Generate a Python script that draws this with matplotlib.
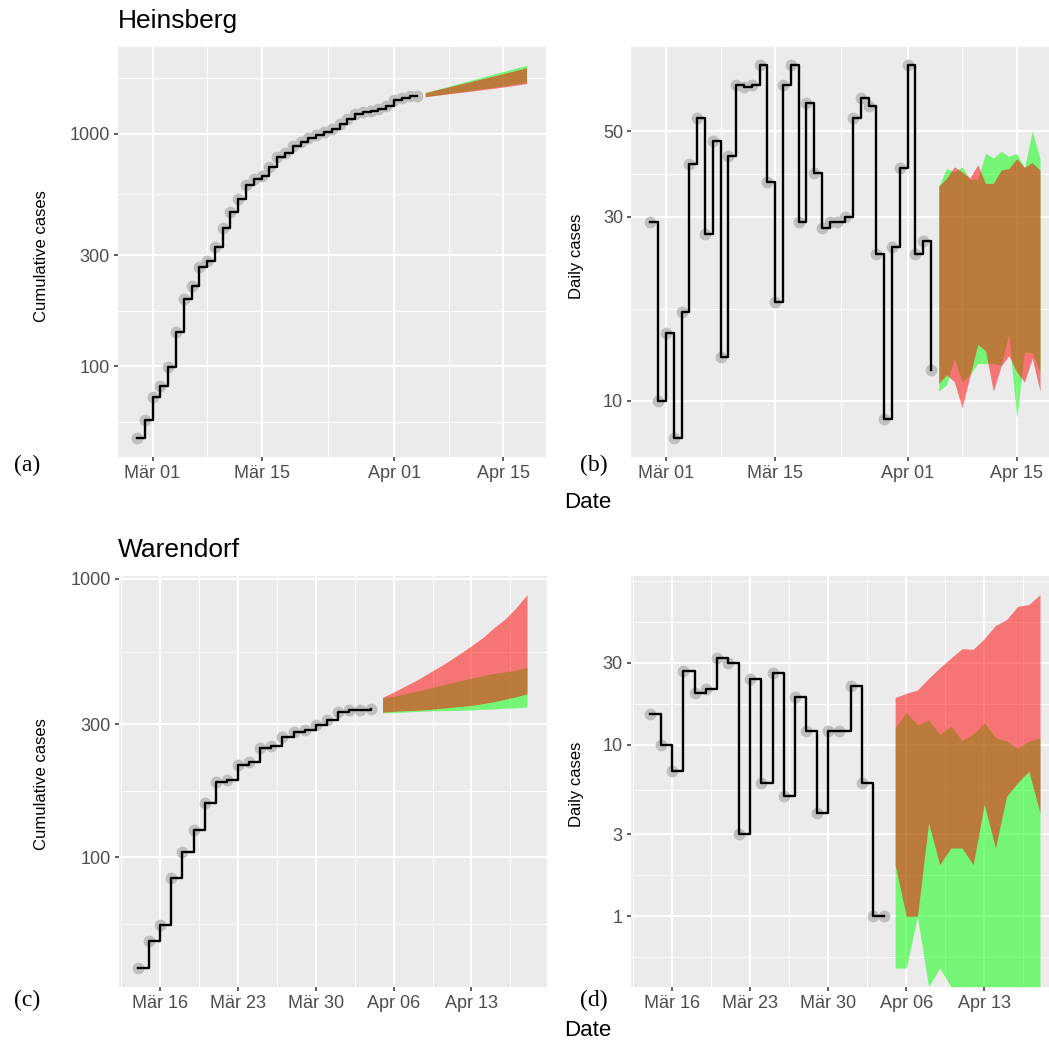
import numpy as np
import matplotlib
matplotlib.use('Agg')
import matplotlib.pyplot as plt
import matplotlib.dates as mdates
from matplotlib.ticker import FixedLocator, FixedFormatter, NullFormatter

plt.rcParams['font.family'] = ['Liberation Sans', 'DejaVu Sans']

W, H = 1049, 1042

# ---- Heinsberg ----
hs_obs_dates = np.arange('2020-02-28', '2020-04-05', dtype='datetime64[D]')
hs_cum = [49, 59, 74, 82, 99, 140, 194, 221, 268, 282, 326, 392, 458, 522, 598, 636,
          655, 718, 795, 826, 880, 922, 952, 983, 1013, 1045, 1097, 1153, 1211, 1237,
          1246, 1270, 1311, 1387, 1415, 1444, 1456]
hs_daily = [29, 10, 15, 8, 17, 41, 54, 27, 47, 13, 43, 66, 65, 66, 74, 37, 18, 66, 74,
            29, 59, 39, 28, 29, 29, 30, 54, 61, 58, 24, 9, 25, 40, 74, 24, 26, 12]

fc_dates = np.arange('2020-04-05', '2020-04-19', dtype='datetime64[D]')
hs_cum_g_lo = [1440, 1455, 1470, 1486, 1502, 1518, 1535, 1551, 1568, 1585, 1602, 1620, 1640, 1665]
hs_cum_g_hi = [1500, 1531, 1563, 1596, 1630, 1664, 1699, 1735, 1771, 1808, 1846, 1885, 1924, 1963]
hs_cum_r_lo = [1440, 1453, 1467, 1481, 1495, 1509, 1523, 1538, 1553, 1568, 1584, 1601, 1620, 1640]
hs_cum_r_hi = [1500, 1528, 1557, 1586, 1616, 1646, 1677, 1709, 1741, 1774, 1808, 1843, 1880, 1919]

hs_day_g_lo = [10.6, 11.0, 12.9, 11.2, 11.7, 12.5, 12.5, 12.5, 12.4, 14.9, 9.0, 13.4, 13.3, 11.9]
hs_day_g_hi = [36.0, 40.0, 39.2, 40.4, 37.5, 37.5, 43.8, 42.6, 44.3, 43.0, 43.8, 40.1, 50.1, 42.4]
hs_day_r_lo = [11.1, 11.7, 11.2, 9.6, 11.6, 14.0, 13.5, 10.6, 12.3, 13.1, 11.9, 11.2, 12.9, 10.6]
hs_day_r_hi = [36.0, 37.7, 40.4, 39.2, 37.8, 40.9, 36.6, 36.6, 39.6, 40.0, 42.4, 40.3, 41.4, 39.6]

# ---- Warendorf ----
wa_obs_dates = np.arange('2020-03-14', '2020-04-05', dtype='datetime64[D]')
wa_cum = [40, 50, 57, 84, 104, 125, 157, 187, 190, 214, 220, 246, 251, 270, 282, 286,
          298, 310, 332, 338, 339, 340]
wa_daily = [15, 10, 7, 27, 20, 21, 32, 30, 3, 24, 6, 26, 5, 19, 12, 4, 12, 12, 22, 6, 1, 1]

wa_cum_g_lo = [330, 331, 332, 334, 335, 336, 336, 337, 338, 340, 341, 343, 344, 346]
wa_cum_g_hi = [373, 379, 386, 394, 403, 412, 421, 430, 440, 448, 457, 463, 470, 480]
wa_cum_r_lo = [332, 334, 336, 337, 339, 342, 345, 348, 351, 356, 362, 369, 377, 386]
wa_cum_r_hi = [375, 392, 411, 431, 455, 480, 508, 540, 575, 614, 666, 716, 786, 877]

wa_day_g_lo = [0.5, 0.5, 1.0, 0, 0.5, 0, 0, 0, 0, 0, 0, 0, 0, 0]
wa_day_g_hi = [12.5, 15.4, 13.0, 13.9, 11.5, 12.8, 10.6, 11.5, 13.4, 11.0, 10.5, 9.5, 10.5, 10.9]
wa_day_r_lo = [2.0, 1.0, 1.0, 3.5, 2.0, 2.5, 2.5, 2.0, 4.5, 2.5, 5.0, 6.0, 7.0, 4.0]
wa_day_r_hi = [18.8, 19.9, 20.8, 24.3, 28.0, 31.9, 36.2, 35.9, 41.4, 49.4, 53.5, 63.9, 65.4, 74.7]

# axis breaks
top_xticks = np.array(['2020-03-01', '2020-03-15', '2020-04-01', '2020-04-15'], dtype='datetime64[D]')
top_xlabels = ['Mär 01', 'Mär 15', 'Apr 01', 'Apr 15']
bot_xticks = np.array(['2020-03-16', '2020-03-23', '2020-03-30', '2020-04-06', '2020-04-13'],
                      dtype='datetime64[D]')
bot_xlabels = ['Mär 16', 'Mär 23', 'Mär 30', 'Apr 06', 'Apr 13']
cum_breaks = [100, 300, 1000]
hs_day_breaks = [10, 30, 50]
wa_day_breaks = [1, 3, 10, 30]


def gg_minor(b, lo, hi):
    # ggplot2 regular_minor_breaks
    b = [v for v in b if lo <= v <= hi]
    bd = b[1] - b[0]
    if lo < b[0]:
        b = [b[0] - bd] + b
    if hi > b[-1]:
        b = b + [b[-1] + bd]
    out = []
    for a, c in zip(b[:-1], b[1:]):
        out += [a, (a + c) / 2]
    out.append(b[-1])
    return [v for v in out if lo <= v <= hi]


def panel(rect, obs_dates, obs, g_lo, g_hi, r_lo, r_hi, ybreaks, xticks, xlabels):
    l, t, r, b = rect
    ax = fig.add_axes([l / W, 1 - b / H, (r - l) / W, (b - t) / H])
    ax.set_facecolor('#EBEBEB')
    for s in ax.spines.values():
        s.set_visible(False)
    xo = mdates.date2num(obs_dates)
    xf = mdates.date2num(fc_dates)
    obs = np.array(obs, float)
    g_lo, g_hi, r_lo, r_hi = [np.array(v, float) for v in (g_lo, g_hi, r_lo, r_hi)]

    # limits like ggplot (5% expansion, log scale for y)
    allv = np.concatenate([obs, g_lo, g_hi, r_lo, r_hi])
    allv = allv[allv > 0]
    lmin, lmax = np.log10(allv.min()), np.log10(allv.max())
    pad = 0.05 * (lmax - lmin)
    ylo, yhi = lmin - pad, lmax + pad
    xs = np.concatenate([xo, xf])
    xpad = 0.05 * (xs.max() - xs.min())
    xlo, xhi = xs.min() - xpad, xs.max() + xpad

    # zeros go to the panel edge (log10(0) = -Inf in ggplot)
    bottom = 10 ** ylo
    ax.fill_between(xf, np.where(g_lo > 0, g_lo, bottom), g_hi, color='#00FF00', alpha=0.5, lw=0, zorder=2)
    ax.fill_between(xf, np.where(r_lo > 0, r_lo, bottom), r_hi, color='#FF0000', alpha=0.5, lw=0, zorder=2)
    ax.plot(xo, obs, 'o', color='#BFBFBF', ms=8.5, mec='none', zorder=3)
    ax.step(xo, obs, where='post', color='black', lw=1.7, zorder=4)

    ax.set_yscale('log')
    ax.set_ylim(10 ** ylo, 10 ** yhi)
    ax.set_xlim(xlo, xhi)

    xt = list(mdates.date2num(xticks))
    ax.xaxis.set_major_locator(FixedLocator(xt))
    ax.xaxis.set_major_formatter(FixedFormatter(xlabels))
    ax.xaxis.set_minor_locator(FixedLocator(gg_minor(xt, xlo, xhi)))
    ax.xaxis.set_minor_formatter(NullFormatter())
    lb = list(np.log10(ybreaks))
    ax.yaxis.set_major_locator(FixedLocator(ybreaks))
    ax.yaxis.set_major_formatter(FixedFormatter([str(v) for v in ybreaks]))
    ax.yaxis.set_minor_locator(FixedLocator([10 ** v for v in gg_minor(lb, ylo, yhi)]))
    ax.yaxis.set_minor_formatter(NullFormatter())

    ax.grid(which='major', color='white', lw=1.5, zorder=0)
    ax.grid(which='minor', color='white', lw=0.75, zorder=0)
    ax.set_axisbelow(True)
    ax.tick_params(which='major', direction='out', length=3.2, width=1.1, color='#333333',
                   labelcolor='#4D4D4D', labelsize=13, pad=2.5)
    ax.tick_params(which='minor', length=0)
    return ax


fig = plt.figure(figsize=(W / 100, H / 100), dpi=100)

panel((117.5, 46.7, 546, 457), hs_obs_dates, hs_cum, hs_cum_g_lo, hs_cum_g_hi,
      hs_cum_r_lo, hs_cum_r_hi, cum_breaks, top_xticks, top_xlabels)
panel((631, 46.7, 1059.5, 457), hs_obs_dates, hs_daily, hs_day_g_lo, hs_day_g_hi,
      hs_day_r_lo, hs_day_r_hi, hs_day_breaks, top_xticks, top_xlabels)
panel((118.5, 576, 546.5, 986.7), wa_obs_dates, wa_cum, wa_cum_g_lo, wa_cum_g_hi,
      wa_cum_r_lo, wa_cum_r_hi, cum_breaks, bot_xticks, bot_xlabels)
panel((630.5, 576, 1059.5, 986.7), wa_obs_dates, wa_daily, wa_day_g_lo, wa_day_g_hi,
      wa_day_r_lo, wa_day_r_hi, wa_day_breaks, bot_xticks, bot_xlabels)


def ftext(x, y, s, **kw):
    fig.text(x / W, 1 - y / H, s, **kw)


ftext(117.5, 27.7, 'Heinsberg', fontsize=19, va='baseline', ha='left')
ftext(117.5, 557, 'Warendorf', fontsize=19, va='baseline', ha='left')
ftext(42, 256, 'Cumulative cases', fontsize=12, rotation=90, ha='center', va='center')
ftext(577, 256, 'Daily cases', fontsize=12, rotation=90, ha='center', va='center')
ftext(42, 784, 'Cumulative cases', fontsize=12, rotation=90, ha='center', va='center')
ftext(577, 784, 'Daily cases', fontsize=12, rotation=90, ha='center', va='center')
ftext(588, 503, 'Date', fontsize=16, ha='center', va='center')
ftext(588, 1030, 'Date', fontsize=16, ha='center', va='center')
for lab, x, y in [('(a)', 27, 465), ('(b)', 594, 465), ('(c)', 27, 1000), ('(d)', 594, 1000)]:
    ftext(x, y, lab, fontsize=17, ha='center', va='center', family=['Liberation Serif', 'DejaVu Serif'])

fig.savefig('out.png', dpi=100)
